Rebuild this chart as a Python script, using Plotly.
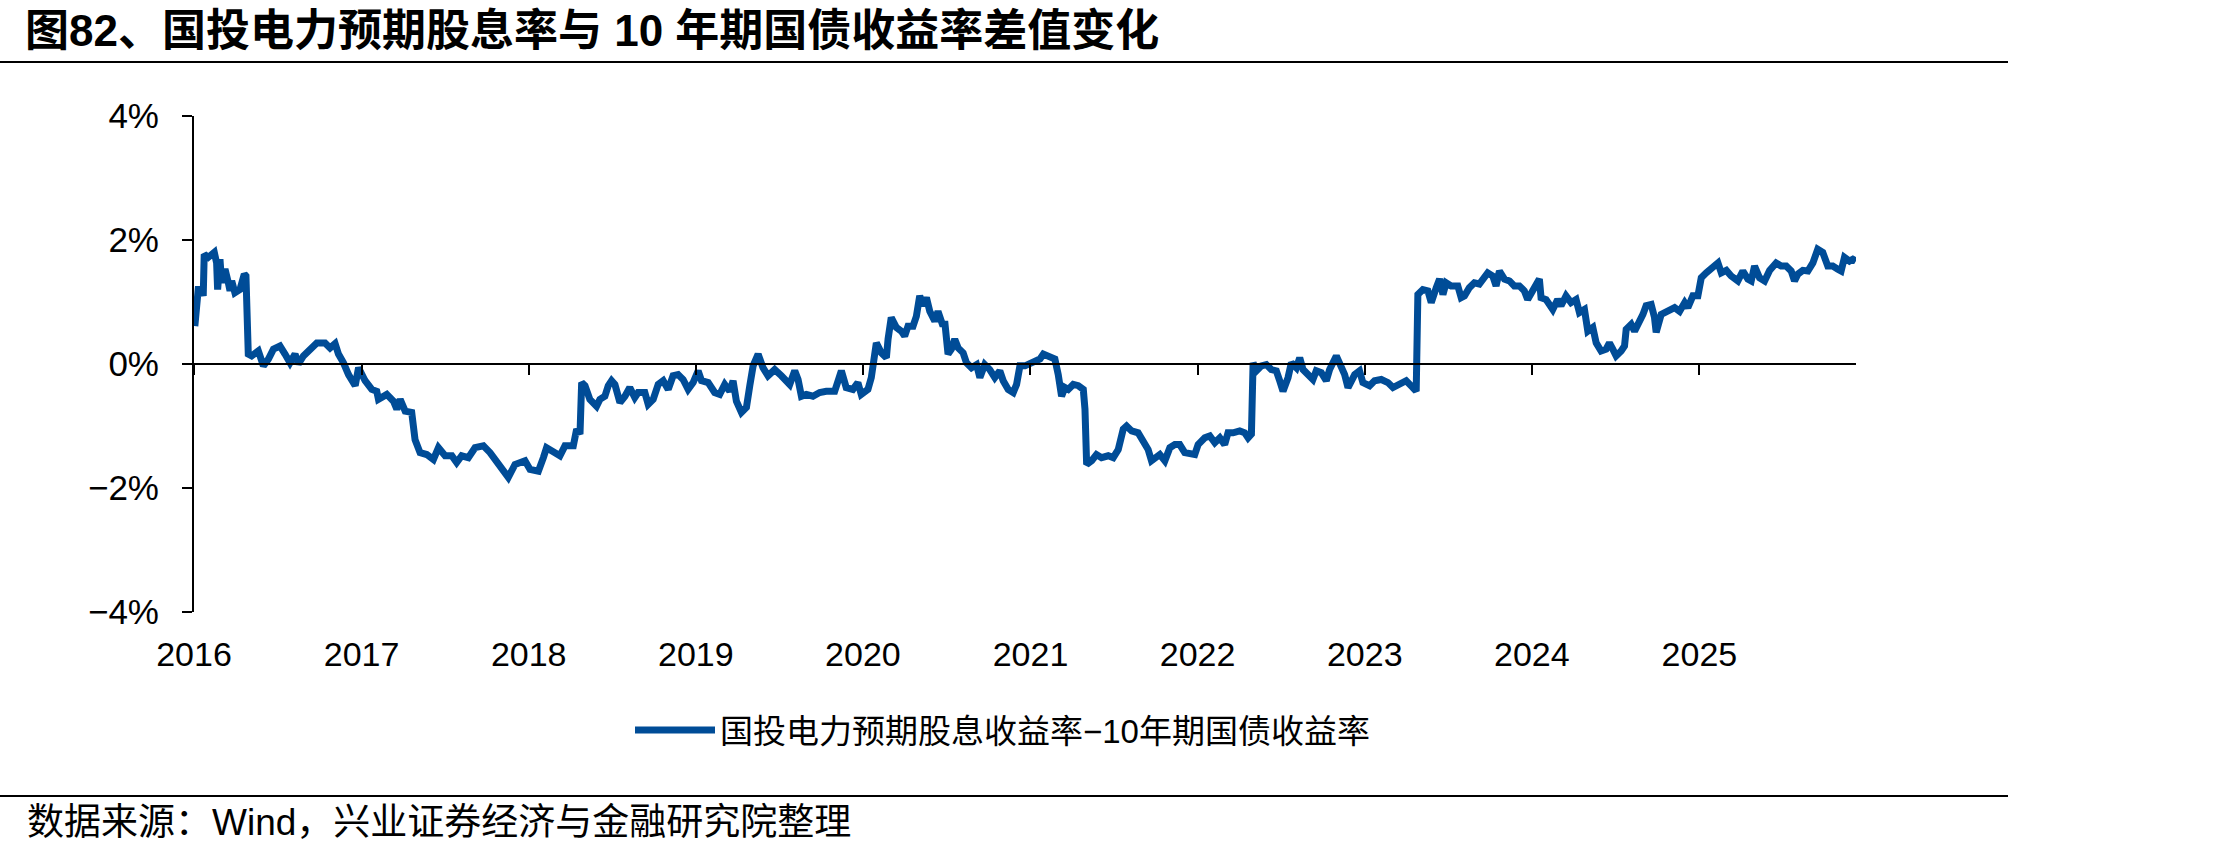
import plotly.graph_objects as go
import pandas as pd

TITLE = "图82、国投电力预期股息率与 10 年期国债收益率差值变化"
SOURCE = "数据来源：Wind，兴业证券经济与金融研究院整理"
SERIES_NAME = "国投电力预期股息收益率−10年期国债收益率"
Y_TICKS = [-4, -2, 0, 2, 4]
Y_TICK_TEXT = ["−4%", "−2%", "0%", "2%", "4%"]
X_START = "2016-01-01"

# time as decimal year and spread in percent
t_year = [
    2016.005, 2016.015, 2016.025, 2016.045, 2016.055, 2016.061, 2016.085, 2016.121, 2016.135, 2016.141,
    2016.155, 2016.165, 2016.185, 2016.205, 2016.215, 2016.225, 2016.244, 2016.274, 2016.300, 2016.310,
    2016.324, 2016.344, 2016.384, 2016.414, 2016.444, 2016.474, 2016.513, 2016.543, 2016.573, 2016.603,
    2016.623, 2016.653, 2016.703, 2016.733, 2016.782, 2016.812, 2016.842, 2016.862, 2016.892, 2016.922,
    2016.962, 2016.982, 2017.021, 2017.061, 2017.091, 2017.101, 2017.151, 2017.191, 2017.211, 2017.231,
    2017.261, 2017.300, 2017.320, 2017.350, 2017.390, 2017.430, 2017.460, 2017.500, 2017.540, 2017.569,
    2017.599, 2017.639, 2017.679, 2017.729, 2017.769, 2017.809, 2017.848, 2017.878, 2017.918, 2017.958,
    2017.978, 2018.008, 2018.058, 2018.088, 2018.107, 2018.157, 2018.187, 2018.217, 2018.267, 2018.287,
    2018.307, 2018.317, 2018.337, 2018.366, 2018.406, 2018.426, 2018.456, 2018.476, 2018.496, 2018.516,
    2018.546, 2018.576, 2018.605, 2018.635, 2018.655, 2018.695, 2018.715, 2018.745, 2018.775, 2018.805,
    2018.835, 2018.864, 2018.894, 2018.924, 2018.954, 2018.984, 2019.014, 2019.034, 2019.074, 2019.113,
    2019.143, 2019.173, 2019.203, 2019.223, 2019.243, 2019.273, 2019.303, 2019.323, 2019.343, 2019.373,
    2019.402, 2019.432, 2019.472, 2019.512, 2019.562, 2019.592, 2019.612, 2019.632, 2019.661, 2019.701,
    2019.741, 2019.781, 2019.831, 2019.871, 2019.900, 2019.940, 2019.970, 2019.990, 2020.030, 2020.050,
    2020.080, 2020.110, 2020.140, 2020.150, 2020.169, 2020.199, 2020.229, 2020.249, 2020.269, 2020.299,
    2020.319, 2020.339, 2020.359, 2020.379, 2020.399, 2020.429, 2020.448, 2020.478, 2020.488, 2020.508,
    2020.528, 2020.548, 2020.568, 2020.598, 2020.618, 2020.648, 2020.678, 2020.698, 2020.727, 2020.757,
    2020.787, 2020.817, 2020.837, 2020.867, 2020.897, 2020.917, 2020.937, 2020.967, 2020.997, 2021.027,
    2021.057, 2021.077, 2021.097, 2021.116, 2021.146, 2021.166, 2021.186, 2021.206, 2021.226, 2021.256,
    2021.286, 2021.316, 2021.326, 2021.336, 2021.366, 2021.395, 2021.425, 2021.465, 2021.495, 2021.525,
    2021.555, 2021.575, 2021.605, 2021.644, 2021.674, 2021.704, 2021.724, 2021.754, 2021.774, 2021.804,
    2021.834, 2021.864, 2021.893, 2021.923, 2021.963, 2021.983, 2022.003, 2022.043, 2022.073, 2022.103,
    2022.133, 2022.162, 2022.182, 2022.212, 2022.252, 2022.282, 2022.302, 2022.322, 2022.332, 2022.352,
    2022.382, 2022.411, 2022.441, 2022.471, 2022.491, 2022.511, 2022.541, 2022.561, 2022.591, 2022.611,
    2022.631, 2022.661, 2022.690, 2022.710, 2022.740, 2022.770, 2022.790, 2022.830, 2022.860, 2022.880,
    2022.900, 2022.920, 2022.940, 2022.969, 2022.989, 2023.029, 2023.059, 2023.099, 2023.139, 2023.169,
    2023.209, 2023.248, 2023.288, 2023.308, 2023.318, 2023.348, 2023.378, 2023.398, 2023.428, 2023.448,
    2023.468, 2023.487, 2023.517, 2023.557, 2023.577, 2023.597, 2023.626, 2023.656, 2023.686, 2023.706,
    2023.736, 2023.766, 2023.786, 2023.806, 2023.836, 2023.866, 2023.895, 2023.925, 2023.955, 2023.975,
    2024.005, 2024.025, 2024.045, 2024.055, 2024.085, 2024.125, 2024.154, 2024.174, 2024.204, 2024.234,
    2024.264, 2024.284, 2024.314, 2024.334, 2024.364, 2024.384, 2024.413, 2024.443, 2024.463, 2024.483,
    2024.503, 2024.533, 2024.553, 2024.563, 2024.593, 2024.613, 2024.643, 2024.663, 2024.682, 2024.712,
    2024.732, 2024.742, 2024.772, 2024.812, 2024.852, 2024.882, 2024.912, 2024.931, 2024.961, 2024.991,
    2025.011, 2025.041, 2025.071, 2025.111, 2025.131, 2025.161, 2025.190, 2025.230, 2025.260, 2025.290,
    2025.310, 2025.330, 2025.360, 2025.390, 2025.420, 2025.459, 2025.489, 2025.519, 2025.549, 2025.569,
    2025.589, 2025.619, 2025.649, 2025.679, 2025.708, 2025.738, 2025.768, 2025.798, 2025.828, 2025.848,
    2025.868, 2025.898, 2025.918, 2025.937,
]

spread = [
    0.61, 1.10, 1.20, 1.20, 1.10, 1.77, 1.72, 1.80, 1.63, 1.20,
    1.69, 1.31, 1.53, 1.31, 1.18, 1.34, 1.15, 1.20, 1.45, 1.42,
    0.16, 0.13, 0.21, -0.03, 0.08, 0.24, 0.29, 0.16, 0.02, 0.16,
    0.00, 0.13, 0.24, 0.34, 0.34, 0.26, 0.33, 0.16, 0.02, -0.17,
    -0.35, -0.06, -0.27, -0.41, -0.44, -0.57, -0.49, -0.60, -0.73, -0.57,
    -0.76, -0.78, -1.22, -1.43, -1.46, -1.54, -1.35, -1.48, -1.48, -1.59,
    -1.48, -1.51, -1.35, -1.32, -1.43, -1.59, -1.70, -1.83, -1.62, -1.59,
    -1.56, -1.70, -1.73, -1.51, -1.35, -1.43, -1.48, -1.32, -1.32, -1.05,
    -1.13, -0.30, -0.35, -0.57, -0.68, -0.57, -0.52, -0.35, -0.27, -0.33,
    -0.62, -0.52, -0.38, -0.54, -0.46, -0.46, -0.65, -0.57, -0.33, -0.27,
    -0.41, -0.19, -0.17, -0.25, -0.41, -0.30, -0.11, -0.27, -0.30, -0.46,
    -0.49, -0.33, -0.44, -0.27, -0.60, -0.78, -0.70, -0.35, -0.03, 0.16,
    -0.06, -0.19, -0.09, -0.19, -0.33, -0.11, -0.25, -0.52, -0.49, -0.52,
    -0.46, -0.44, -0.44, -0.11, -0.38, -0.41, -0.30, -0.49, -0.41, -0.22,
    0.34, 0.18, 0.10, 0.40, 0.75, 0.59, 0.53, 0.45, 0.61, 0.61,
    0.77, 1.10, 0.94, 1.07, 0.85, 0.69, 0.85, 0.61, 0.69, 0.16,
    0.24, 0.40, 0.26, 0.18, 0.02, -0.06, -0.01, -0.22, -0.01, -0.09,
    -0.22, -0.11, -0.27, -0.41, -0.46, -0.33, -0.03, -0.03, 0.00, 0.05,
    0.08, 0.16, 0.13, 0.10, 0.08, -0.17, -0.52, -0.38, -0.41, -0.33,
    -0.35, -0.41, -0.73, -1.62, -1.56, -1.46, -1.51, -1.48, -1.51, -1.38,
    -1.05, -1.00, -1.08, -1.11, -1.27, -1.38, -1.56, -1.51, -1.46, -1.56,
    -1.35, -1.30, -1.30, -1.43, -1.46, -1.46, -1.30, -1.19, -1.16, -1.27,
    -1.19, -1.30, -1.11, -1.11, -1.08, -1.11, -1.19, -1.13, 0.02, -0.11,
    -0.03, -0.01, -0.09, -0.11, -0.27, -0.44, -0.22, 0.02, -0.06, 0.10,
    -0.09, -0.17, -0.25, -0.11, -0.14, -0.27, -0.09, 0.13, -0.03, -0.17,
    -0.38, -0.25, -0.17, -0.11, -0.30, -0.35, -0.27, -0.25, -0.30, -0.38,
    -0.33, -0.27, -0.38, -0.44, 1.12, 1.20, 1.18, 0.99, 1.23, 1.37,
    1.12, 1.31, 1.26, 1.26, 1.07, 1.10, 1.23, 1.31, 1.29, 1.37,
    1.47, 1.42, 1.26, 1.50, 1.37, 1.34, 1.26, 1.26, 1.18, 1.04,
    1.18, 1.23, 1.37, 1.07, 1.04, 0.88, 1.04, 0.94, 1.10, 0.99,
    1.04, 0.83, 0.88, 0.53, 0.59, 0.34, 0.21, 0.24, 0.34, 0.24,
    0.13, 0.21, 0.29, 0.56, 0.64, 0.53, 0.67, 0.80, 0.94, 0.96,
    0.75, 0.51, 0.80, 0.85, 0.91, 0.85, 0.99, 0.91, 1.10, 1.10,
    1.39, 1.47, 1.55, 1.63, 1.47, 1.51, 1.42, 1.34, 1.50, 1.37,
    1.34, 1.58, 1.39, 1.34, 1.51, 1.63, 1.58, 1.58, 1.50, 1.34,
    1.45, 1.51, 1.50, 1.63, 1.85, 1.80, 1.58, 1.58, 1.53, 1.50,
    1.72, 1.66, 1.69, 1.66,
]


def to_date(t):
    y = int(t)
    start = pd.Timestamp(year=y, month=1, day=1)
    end = pd.Timestamp(year=y + 1, month=1, day=1)
    return start + (end - start) * (t - y)


dates = [to_date(t) for t in t_year]

LATIN = "Liberation Sans, Arial, Noto Sans CJK SC, sans-serif"
BLUE = "#004c97"

fig = go.Figure()
fig.add_trace(go.Scatter(
    x=dates, y=spread, mode="lines", name=SERIES_NAME,
    line=dict(color=BLUE, width=7, shape="linear"),
))

W, H = 2221, 856
L, R, T, B = 194, 2221 - 1856, 116, 856 - 612
pw, ph = W - L - R, H - T - B


def px_x(x):
    return (x - L) / pw


def px_y(y):
    return (H - B - y) / ph


fig.update_layout(
    width=W, height=H, autosize=False,
    margin=dict(l=L, r=R, t=T, b=B, pad=0),
    paper_bgcolor="white", plot_bgcolor="white",
    font=dict(family=LATIN, color="black", size=34),
    title=dict(
        text="<b>" + TITLE + "</b>", xref="container", yref="container",
        x=25 / W, xanchor="left", y=1 - 31 / H, yanchor="middle",
        font=dict(family=LATIN, size=44, color="black"),
    ),
    showlegend=True,
    legend=dict(
        orientation="h", x=px_x(630), xanchor="left", y=px_y(730), yanchor="middle",
        font=dict(family=LATIN, size=33, color="black"), itemwidth=80,
        bgcolor="rgba(0,0,0,0)",
    ),
    xaxis=dict(
        type="date", range=[X_START, dates[-1]], tick0=X_START, dtick="M12",
        tickformat="%Y", showgrid=False, zeroline=False,
        showline=True, linecolor="black", linewidth=2,
        ticks="outside", ticklen=10, tickwidth=2, tickcolor="black",
        anchor="free", position=0.5, ticklabelstandoff=250,
        tickfont=dict(family=LATIN, size=34, color="black"),
    ),
    yaxis=dict(
        range=[-4, 4], tickmode="array", tickvals=Y_TICKS, ticktext=Y_TICK_TEXT,
        showgrid=False, zeroline=False,
        showline=True, linecolor="black", linewidth=2,
        ticks="outside", ticklen=10, tickwidth=2, tickcolor="black",
        ticklabelstandoff=16,
        tickfont=dict(family=LATIN, size=35, color="black"),
    ),
    shapes=[
        dict(type="line", xref="paper", yref="paper", x0=px_x(0), x1=px_x(2008),
             y0=px_y(62), y1=px_y(62), line=dict(color="black", width=2)),
        dict(type="line", xref="paper", yref="paper", x0=px_x(0), x1=px_x(2008),
             y0=px_y(796), y1=px_y(796), line=dict(color="black", width=2)),
    ],
    annotations=[
        dict(text=SOURCE, xref="paper", yref="paper", x=px_x(25), y=px_y(822),
             xanchor="left", yanchor="middle", showarrow=False,
             font=dict(family=LATIN, size=37, color="black")),
    ],
)

fig.write_html("out.html")
